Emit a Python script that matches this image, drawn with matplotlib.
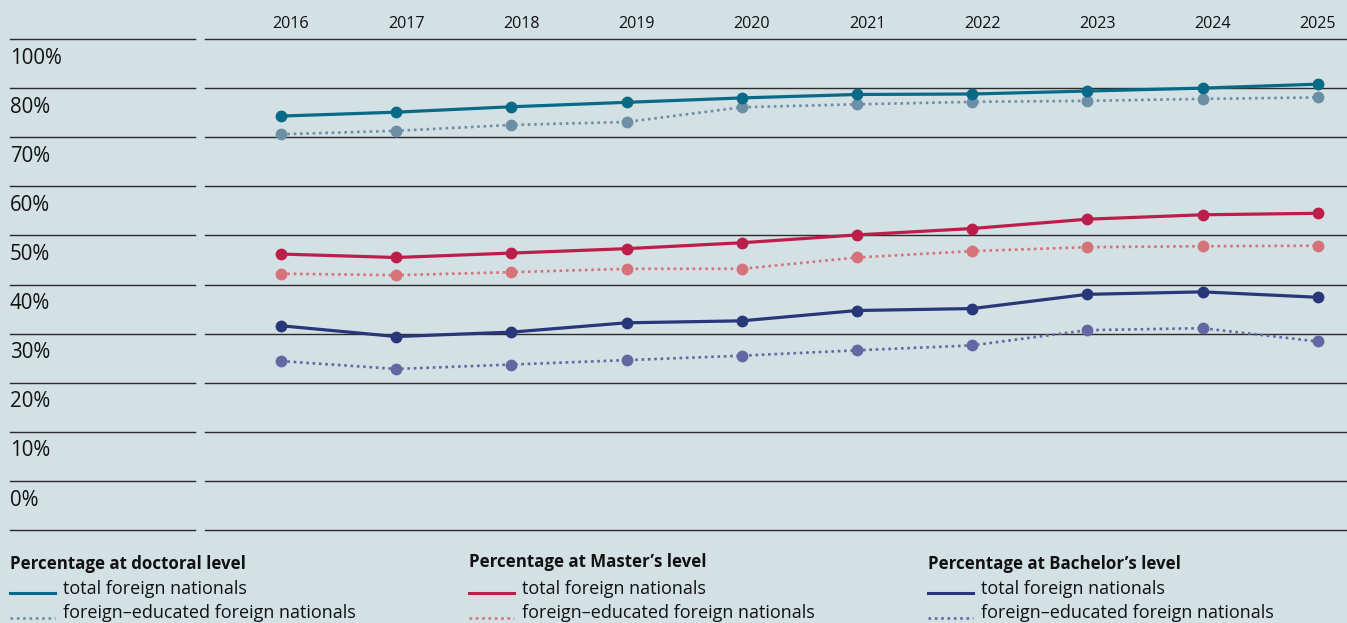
import matplotlib.pyplot as plt
from matplotlib.lines import Line2D

plt.rcParams['font.family'] = ['Open Sans', 'DejaVu Sans']

years = [2016, 2017, 2018, 2019, 2020, 2021, 2022, 2023, 2024, 2025]

doc_total = [84.3, 85.1, 86.2, 87.1, 88.0, 88.7, 88.8, 89.4, 90.0, 90.8]
doc_foreign_edu = [80.6, 81.3, 82.5, 83.1, 86.1, 86.7, 87.2, 87.4, 87.8, 88.1]
master_total = [56.2, 55.5, 56.4, 57.3, 58.5, 60.1, 61.4, 63.3, 64.2, 64.5]
master_foreign_edu = [52.2, 51.9, 52.5, 53.2, 53.2, 55.5, 56.8, 57.6, 57.8, 57.9]
bach_total = [41.6, 39.4, 40.3, 42.2, 42.6, 44.7, 45.1, 48.0, 48.5, 47.4]
bach_foreign_edu = [34.4, 32.8, 33.7, 34.6, 35.5, 36.6, 37.6, 40.7, 41.1, 38.4]

grid_values = [0, 10, 20, 30, 40, 50, 60, 70, 80, 90, 100]
# labels as printed in the original (90% is missing there)
y_labels = ['0%', '10%', '20%', '30%', '40%', '50%', '60%', '70%', '80%', '100%']

levels = [
    ('Percentage at doctoral level', doc_total, doc_foreign_edu, '#086a86', '#6d8fa6'),
    ("Percentage at Master\u2019s level", master_total, master_foreign_edu, '#bd1d4b', '#d5727a'),
    ("Percentage at Bachelor\u2019s level", bach_total, bach_foreign_edu, '#28367a', '#6468a2'),
]

W, H = 1347, 623
bg = '#d3e0e4'
fig = plt.figure(figsize=(W / 100, H / 100), dpi=100, facecolor=bg)
ax = fig.add_axes([0, 0, 1, 1], facecolor=bg)
px_per_year = 115.2
ax.set_xlim(2016 - 281 / px_per_year, 2016 + (W - 281) / px_per_year)
ax.set_ylim(-(H - 530) / 4.91, 530 / 4.91)
ax.axis('off')

# grid lines, split into a label part and a plot part
ytr = ax.get_yaxis_transform()
for g in grid_values:
    ax.plot([10 / W, 195 / W], [g, g], color='#2b2b2b', lw=1.0, transform=ytr)
    ax.plot([205 / W, 1.0], [g, g], color='#2b2b2b', lw=1.0, transform=ytr)

for i, lab in enumerate(y_labels):
    ax.text(10 / W, grid_values[i] + 6.1, lab, transform=ytr, fontsize=14.8,
            va='center', ha='left', color='#111111')

# year labels sit a little right of their points; the last one is right aligned
xtr = ax.get_xaxis_transform()
for yr in years:
    if yr == years[-1]:
        ax.text(yr + 18 / px_per_year, 1 - 24 / H, str(yr), transform=xtr,
                fontsize=11.6, ha='right', va='center', color='#111111')
    else:
        ax.text(yr + 10 / px_per_year, 1 - 24 / H, str(yr), transform=xtr,
                fontsize=11.6, ha='center', va='center', color='#111111')

for name, tot, fe, c1, c2 in levels:
    ax.plot(years, fe, color=c2, lw=1.9, linestyle=(0, (1, 1.4)),
            marker='o', markersize=8.5, markeredgewidth=0, zorder=3)
    ax.plot(years, tot, color=c1, lw=2.3, marker='o', markersize=8.5,
            markeredgewidth=0, zorder=4)

# legend, three columns at the bottom
legend_x = [10, 469, 928]
header_y = [564, 562, 564]
for (name, tot, fe, c1, c2), lx, hy in zip(levels, legend_x, header_y):
    fig.text(lx / W, 1 - hy / H, name, fontsize=12.2, fontweight='bold',
             va='center', ha='left', color='#111111')
    fig.add_artist(Line2D([lx / W, (lx + 45) / W], [1 - 592.5 / H] * 2,
                          color=c1, lw=2.2, transform=fig.transFigure))
    fig.add_artist(Line2D([lx / W, (lx + 45) / W], [1 - 617.5 / H] * 2,
                          color=c2, lw=1.9, linestyle=(0, (1, 1.4)),
                          transform=fig.transFigure))
    fig.text((lx + 53) / W, 1 - 589.5 / H, 'total foreign nationals', fontsize=13,
             va='center', ha='left', color='#111111')
    fig.text((lx + 53) / W, 1 - 613 / H, 'foreign\u2013educated foreign nationals',
             fontsize=13, va='center', ha='left', color='#111111')

fig.savefig('out.png', dpi=100, facecolor=bg)
